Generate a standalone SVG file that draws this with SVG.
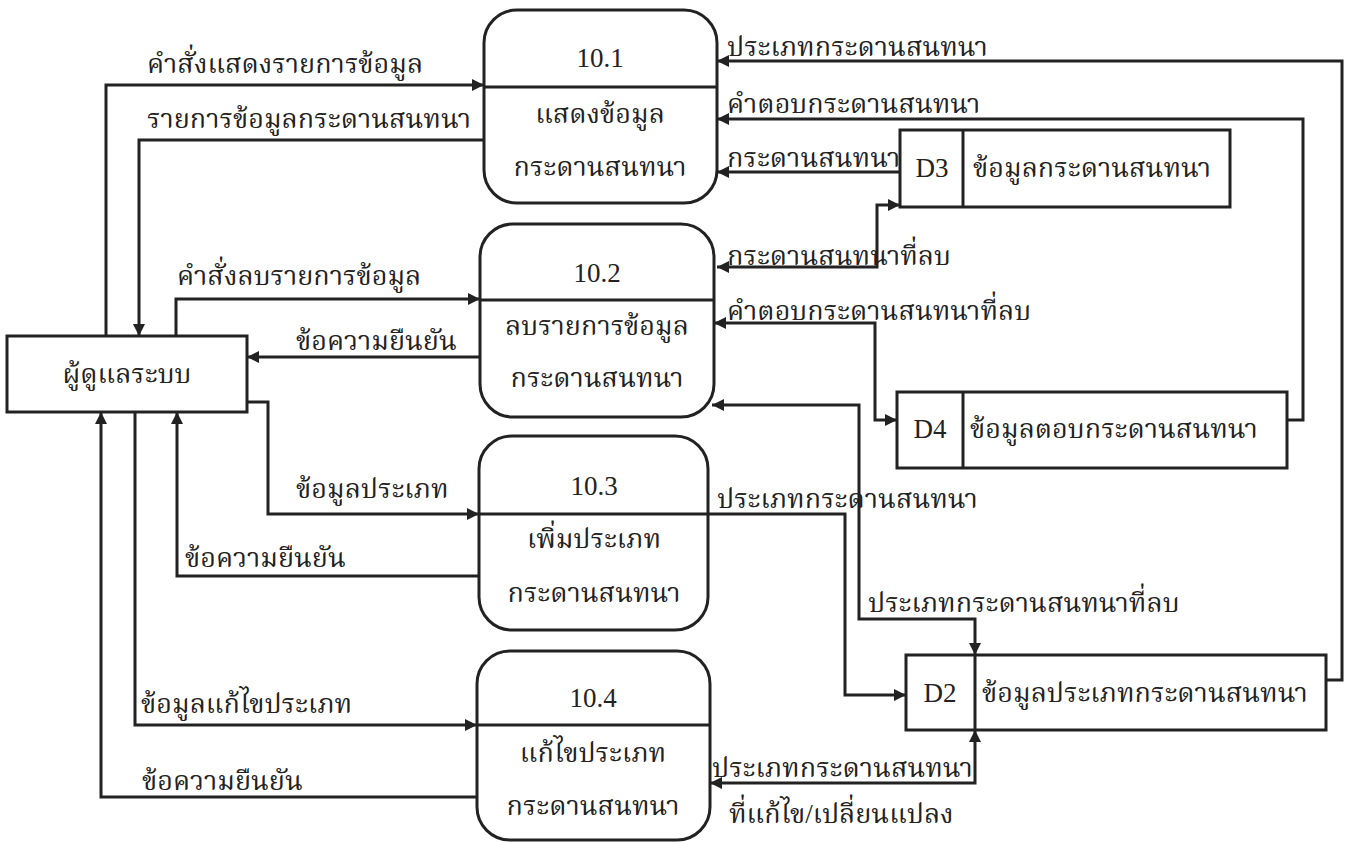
<svg xmlns="http://www.w3.org/2000/svg" width="1353" height="842" viewBox="0 0 1353 842">
<style>
text{font-family:"Liberation Serif","Noto Serif Thai","Noto Sans Thai",serif;font-size:27px;fill:#222}
.c{text-anchor:middle}
.box{fill:#fff;stroke:#222;stroke-width:3}
.ln{fill:none;stroke:#222;stroke-width:3}
.fl{fill:none;stroke:#222;stroke-width:3;marker-end:url(#a)}
.bi{fill:none;stroke:#222;stroke-width:3;marker-end:url(#a);marker-start:url(#a)}
</style>
<defs>
<marker id="a" viewBox="0 0 10 10" refX="10" refY="5" markerWidth="14" markerHeight="12" markerUnits="userSpaceOnUse" orient="auto-start-reverse">
<path d="M0,0 L10,5 L0,10 z" fill="#222"/>
</marker>
</defs>
<rect width="1353" height="842" fill="#fff"/>
<g id="connectors">
<path class="fl" d="M106,336 V85 H484"/>
<path class="fl" d="M484,140 H139 V336"/>
<path class="fl" d="M176,336 V299 H480"/>
<path class="fl" d="M480,357 H247"/>
<path class="fl" d="M247,402 H268 V514 H479"/>
<path class="fl" d="M479,576 H177 V412"/>
<path class="fl" d="M135,412 V725 H477"/>
<path class="fl" d="M477,797 H101 V412"/>
<path class="fl" d="M1326,680 H1342 V61 H717"/>
<path class="fl" d="M1287,420 H1303 V119 H717"/>
<path class="fl" d="M900,172 H717"/>
<path class="bi" d="M717,267 H877 V205 H900"/>
<path class="bi" d="M714,323 H875 V420 H897"/>
<path class="fl" d="M708,514 H845 V695 H906"/>
<path class="bi" d="M712,405 H859 V619 H975 V655"/>
<path class="bi" d="M975,730 V783 H710"/>
<text x="147" y="73">คำสั่งแสดงรายการข้อมูล</text>
<text x="147" y="128">รายการข้อมูลกระดานสนทนา</text>
<text x="177" y="285">คำสั่งลบรายการข้อมูล</text>
<text x="296" y="350">ข้อความยืนยัน</text>
<text x="296" y="498">ข้อมูลประเภท</text>
<text x="185" y="567">ข้อความยืนยัน</text>
<text x="141" y="713">ข้อมูลแก้ไขประเภท</text>
<text x="142" y="790">ข้อความยืนยัน</text>
<text x="727" y="56">ประเภทกระดานสนทนา</text>
<text x="727" y="113">คำตอบกระดานสนทนา</text>
<text x="727" y="167">กระดานสนทนา</text>
<text x="727" y="265">กระดานสนทนาที่ลบ</text>
<text x="727" y="320">คำตอบกระดานสนทนาที่ลบ</text>
<text x="717" y="508">ประเภทกระดานสนทนา</text>
<text x="868" y="612">ประเภทกระดานสนทนาที่ลบ</text>
<text x="712" y="777">ประเภทกระดานสนทนา</text>
<text x="729" y="823">ที่แก้ไข/เปลี่ยนแปลง</text>
</g>
<g id="admin">
<rect class="box" x="7" y="336" width="240" height="76"/>
<text class="c" x="127" y="383">ผู้ดูแลระบบ</text>
</g>
<g id="p10_1">
<rect class="box" x="484" y="10" width="233" height="193" rx="33"/>
<line class="ln" x1="484" y1="87" x2="717" y2="87"/>
<text class="c" x="600" y="67">10.1</text>
<text class="c" x="600" y="123">แสดงข้อมูล</text>
<text class="c" x="600" y="176">กระดานสนทนา</text>
</g>
<g id="p10_2">
<rect class="box" x="480" y="224" width="234" height="193" rx="33"/>
<line class="ln" x1="480" y1="300" x2="714" y2="300"/>
<text class="c" x="597" y="282">10.2</text>
<text class="c" x="597" y="335">ลบรายการข้อมูล</text>
<text class="c" x="597" y="387">กระดานสนทนา</text>
</g>
<g id="p10_3">
<rect class="box" x="479" y="436" width="229" height="194" rx="33"/>
<line class="ln" x1="479" y1="514" x2="708" y2="514"/>
<text class="c" x="594" y="495">10.3</text>
<text class="c" x="594" y="548">เพิ่มประเภท</text>
<text class="c" x="594" y="602">กระดานสนทนา</text>
</g>
<g id="p10_4">
<rect class="box" x="477" y="651" width="233" height="189" rx="33"/>
<line class="ln" x1="477" y1="725" x2="710" y2="725"/>
<text class="c" x="593" y="707">10.4</text>
<text class="c" x="593" y="762">แก้ไขประเภท</text>
<text class="c" x="593" y="815">กระดานสนทนา</text>
</g>
<g id="d3">
<rect class="box" x="900" y="130" width="330" height="77"/>
<line class="ln" x1="963" y1="130" x2="963" y2="207"/>
<text class="c" x="932" y="177">D3</text>
<text x="973" y="177">ข้อมูลกระดานสนทนา</text>
</g>
<g id="d4">
<rect class="box" x="897" y="392" width="390" height="76"/>
<line class="ln" x1="963" y1="392" x2="963" y2="468"/>
<text class="c" x="930" y="438">D4</text>
<text x="970" y="438">ข้อมูลตอบกระดานสนทนา</text>
</g>
<g id="d2">
<rect class="box" x="906" y="655" width="420" height="75"/>
<line class="ln" x1="975" y1="655" x2="975" y2="730"/>
<text class="c" x="940" y="702">D2</text>
<text x="982" y="702">ข้อมูลประเภทกระดานสนทนา</text>
</g>
</svg>
